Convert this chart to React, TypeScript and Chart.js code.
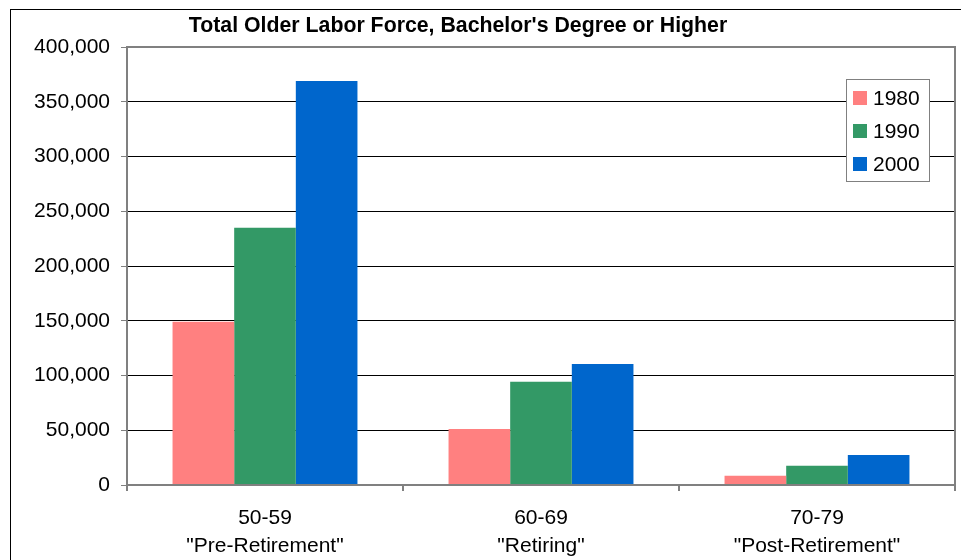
import React, { useEffect, useRef } from "react";
import { Chart, registerables } from "chart.js";

Chart.register(...registerables);

const TITLE = "Total Older Labor Force, Bachelor's Degree or Higher";
const categories: string[][] = [
  ["50-59", '"Pre-Retirement"'],
  ["60-69", '"Retiring"'],
  ["70-79", '"Post-Retirement"'],
];
const seriesNames = ["1980", "1990", "2000"];
const values1980 = [149000, 51200, 8500];
const values1990 = [235000, 94200, 17600];
const values2000 = [369000, 110600, 27400];
const seriesColors = ["#FF8080", "#339966", "#0066CC"];
const yMin = 0;
const yMax = 400000;
const yStep = 50000;

const FONT = "Arial, 'Liberation Sans', sans-serif";

const decorPlugin = {
  id: "decor",
  afterDatasetsDraw(chart: any) {
    const { ctx, chartArea } = chart;
    ctx.save();
    // plot area border
    ctx.strokeStyle = "#808080";
    ctx.lineWidth = 2;
    ctx.strokeRect(chartArea.left, chartArea.top, chartArea.right - chartArea.left, chartArea.bottom - chartArea.top);

    // legend box
    const bx = chartArea.right - 109;
    const by = chartArea.top + 32;
    const bw = 83;
    const bh = 102;
    ctx.fillStyle = "#ffffff";
    ctx.fillRect(bx, by, bw, bh);
    ctx.strokeStyle = "#808080";
    ctx.lineWidth = 1;
    ctx.strokeRect(bx + 0.5, by + 0.5, bw, bh);
    ctx.font = `21px ${FONT}`;
    ctx.textBaseline = "middle";
    ctx.textAlign = "left";
    chart.data.datasets.forEach((ds: any, i: number) => {
      const cy = by + 19 + i * 33;
      ctx.fillStyle = ds.backgroundColor;
      ctx.fillRect(bx + 7, cy - 7, 14, 14);
      ctx.fillStyle = "#000";
      ctx.fillText(ds.label, bx + 27, cy + 1);
    });

    // title
    ctx.font = `bold 21.3px ${FONT}`;
    ctx.textAlign = "center";
    ctx.textBaseline = "middle";
    ctx.fillStyle = "#000";
    ctx.fillText(TITLE, 458, 26);
    ctx.restore();
  },
};

export default function App() {
  const ref = useRef<HTMLCanvasElement | null>(null);
  useEffect(() => {
    if (!ref.current) return;
    const chart = new Chart(ref.current, {
      type: "bar",
      data: {
        labels: categories,
        datasets: [values1980, values1990, values2000].map((v, i) => ({
          label: seriesNames[i],
          data: v,
          backgroundColor: seriesColors[i],
          borderWidth: 0,
          categoryPercentage: 0.67,
          barPercentage: 1,
        })),
      },
      options: {
        animation: false,
        responsive: false,
        maintainAspectRatio: false,
        layout: { padding: { left: 0, right: 6, top: 47, bottom: 0 } },
        plugins: {
          legend: { display: false },
          title: { display: false },
          tooltip: { enabled: false },
        },
        scales: {
          x: {
            border: { display: false },
            grid: {
              display: true,
              drawOnChartArea: false,
              drawTicks: true,
              tickLength: 6,
              tickColor: "#808080",
              lineWidth: 2,
              offset: true,
            },
            ticks: {
              color: "#000",
              font: { family: FONT, size: 21, lineHeight: 1.33 },
              padding: 13,
              maxRotation: 0,
              autoSkip: false,
            },
            afterFit(scale: any) {
              scale.height = 75;
            },
          },
          y: {
            min: yMin,
            max: yMax,
            border: { display: false },
            grid: {
              color: "#000",
              lineWidth: 1,
              tickLength: 6,
              tickColor: "#808080",
            },
            ticks: {
              stepSize: yStep,
              color: "#000",
              font: { family: FONT, size: 21 },
              padding: 11,
              callback: (v: any) => Number(v).toLocaleString("en-US"),
            },
            afterFit(scale: any) {
              scale.width = 127;
            },
          },
        },
      },
      plugins: [decorPlugin],
    });
    return () => chart.destroy();
  }, []);

  return (
    <div
      style={{
        position: "fixed",
        left: 0,
        top: 0,
        width: 961,
        height: 560,
        overflow: "hidden",
        background: "#fff",
      }}
    >
      <div
        style={{
          position: "absolute",
          left: 10,
          top: 9,
          width: 1000,
          height: 600,
          border: "1px solid #000",
        }}
      />
      <canvas ref={ref} width={961} height={560} style={{ position: "absolute", left: 0, top: 0 }} />
    </div>
  );
}
